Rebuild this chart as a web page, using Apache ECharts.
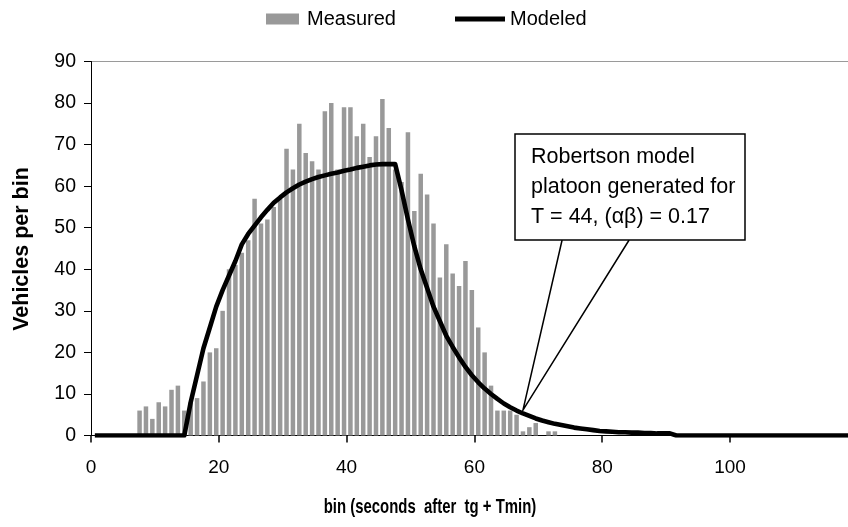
<!DOCTYPE html>
<html><head><meta charset="utf-8">
<script src="https://cdn.jsdelivr.net/npm/echarts@6/dist/echarts.min.js"></script>
<style>html,body{margin:0;padding:0;background:#fff}#c{width:848px;height:527px}</style>
</head><body><div id="c"></div>
<script>
// ---- data ----
const measuredBins = [7,8,9,10,11,12,13,14,15,16,17,18,19,20,21,22,23,24,25,26,27,28,29,30,31,32,33,34,35,36,37,38,39,40,41,42,43,44,45,46,47,48,49,50,51,52,53,54,55,56,57,58,59,60,61,62,63,64,65,66,67,68,69,70,71,72];
const measuredValues = [6,7,4,8,7,11,12,6,8,9,13,20,21,30,40,41,44,47,57,51,52,55,57,69,64,75,68,66,64,78,80,64,79,79,72,75,67,72,81,74,64,61,73,54,63,58,51,38,46,39,36,42,35,26,20,12,6,6,6,5,1,2,3,0,1,1];
const modelBins = [];
for (let k = 0; k <= 120; k++) modelBins.push(k);
const modelValues = [
  0,0,0,0,0,0,0,0,0,0, 0,0,0,0,0,8,14.5,21,26,31,
  35,38.5,42,46,48.5,50.5,52.5,54.3,56,57.3, 58.5,59.5,60.4,61.1,61.7,62.2,62.6,63,63.3,63.7,
  64,64.4,64.7,65,65.2,65.3,65.3,65.3,59,52, 45.5,40,35.5,31,27.5,24,21.3,18.8,16.5,14.5,
  12.8,11.3,10,8.8,7.7,6.8,6,5.3,4.7,4.1, 3.6,3.2,2.8,2.5,2.2,1.9,1.7,1.5,1.3,1.1,
  1,0.9,0.8,0.8,0.7,0.7,0.6,0.6,0.5,0.5, 0.5,0,0,0,0,0,0,0,0,0,
  0,0,0,0,0,0,0,0,0,0, 0,0,0,0,0,0,0,0,0,0, 0
];
const xTickStep = 20;
const yTickStep = 10;
const yMax = 90;
const annotationText = ['Robertson model', 'platoon generated for', 'T = 44, (\u03b1\u03b2) = 0.17'];
const annotationBin = 67;

const FONT = '"Liberation Sans", Arial, sans-serif';
const chart = echarts.init(document.getElementById('c'), null, {renderer: 'canvas'});

const measuredData = measuredBins.map((b, i) => [b, measuredValues[i]]);
const modelData = modelBins.map((b, i) => [b, modelValues[i]]);

const splitColors = [];
for (let v = 0; v <= yMax; v += yTickStep) splitColors.push(v === yMax ? '#9a9a9a' : 'rgba(0,0,0,0)');

const legendText = {fontFamily: FONT, fontSize: 20, color: '#000'};
const option = {
  animation: false,
  backgroundColor: '#fff',
  legend: [
    {left: 266, top: 9, padding: 0, itemWidth: 33, itemHeight: 11, selectedMode: false,
     textStyle: Object.assign({padding: [0, 0, 0, 3]}, legendText),
     data: [{name: 'Measured', icon: 'rect', itemStyle: {color: '#999999'}}]},
    {left: 455, top: 9, padding: 0, itemWidth: 50, itemHeight: 5, selectedMode: false,
     textStyle: legendText,
     data: [{name: 'Modeled', icon: 'rect', itemStyle: {color: '#000'}}]}
  ],
  grid: {left: 91, top: 61.5, width: 766.8, height: 374, containLabel: false, outerBoundsMode: 'none'},
  xAxis: [
    {
      type: 'value', min: 0, max: 120, interval: xTickStep,
      axisLine: {show: true, lineStyle: {color: '#000', width: 1}},
      axisTick: {show: true, length: 7, lineStyle: {color: '#000', width: 1.5}},
      axisLabel: {fontFamily: FONT, fontSize: 19, color: '#000', margin: 23, showMaxLabel: false},
      splitLine: {show: false}
    },
    {type: 'value', min: -0.6, max: 119.4, show: false}
  ],
  yAxis: {
    type: 'value', min: 0, max: yMax, interval: yTickStep,
    axisLine: {show: true, lineStyle: {color: '#000', width: 1}},
    axisTick: {show: true, length: 7, lineStyle: {color: '#000', width: 1}},
    axisLabel: {fontFamily: FONT, fontSize: 19.5, color: '#000', margin: 15},
    splitLine: {show: true, lineStyle: {color: splitColors, width: 1.2}}
  },
  series: [
    {
      name: 'Measured', type: 'bar', xAxisIndex: 1, yAxisIndex: 0,
      data: measuredData, barWidth: 4.5,
      itemStyle: {color: '#999999'}
    },
    {
      name: 'Modeled', type: 'line', xAxisIndex: 1, yAxisIndex: 0,
      data: modelData, symbol: 'none', z: 3,
      lineStyle: {color: '#000', width: 4.6, join: 'round'},
      itemStyle: {color: '#000'}
    }
  ]
};
chart.setOption(option);

const anchor = chart.convertToPixel({xAxisIndex: 1, yAxisIndex: 0}, [annotationBin, modelValues[annotationBin] + 0.8]);
const box = {x: 515, y: 134, w: 230, h: 106};
function atY(p0, p1, y) { return p0[0] + (p1[0] - p0[0]) * (y - p0[1]) / (p1[1] - p0[1]); }
const boxBottom = box.y + box.h;

chart.setOption({
  graphic: [
    {type: 'text', z: 10, x: 22, y: 249, rotation: Math.PI / 2,
     style: {text: 'Vehicles per bin', fontFamily: FONT, fontWeight: 'bold', fontSize: 21.5, fill: '#000',
             x: 0, y: 0, align: 'center', verticalAlign: 'middle'}},
    {type: 'text', z: 10, x: 430, y: 507, scaleX: 0.71,
     style: {text: 'bin (seconds  after  tg + Tmin)', fontFamily: FONT, fontWeight: 'bold', fontSize: 21, fill: '#000',
             x: 0, y: 0, align: 'center', verticalAlign: 'middle'}},
    {type: 'polyline', z: 9,
     shape: {points: [[atY(anchor, [548.3, 300], boxBottom), boxBottom], anchor, [atY(anchor, [591.7, 300], boxBottom), boxBottom]]},
     style: {stroke: '#000', lineWidth: 1.5, fill: null}},
    {type: 'rect', z: 10,
     shape: {x: box.x, y: box.y, width: box.w, height: box.h},
     style: {fill: '#fff', stroke: '#000', lineWidth: 1.5}},
    {type: 'text', z: 11,
     style: {text: annotationText.join('\n'), fontFamily: FONT, fontSize: 21.5, fill: '#000',
             x: 531, y: 142, align: 'left', verticalAlign: 'top', lineHeight: 30}}
  ]
});
</script></body></html>
